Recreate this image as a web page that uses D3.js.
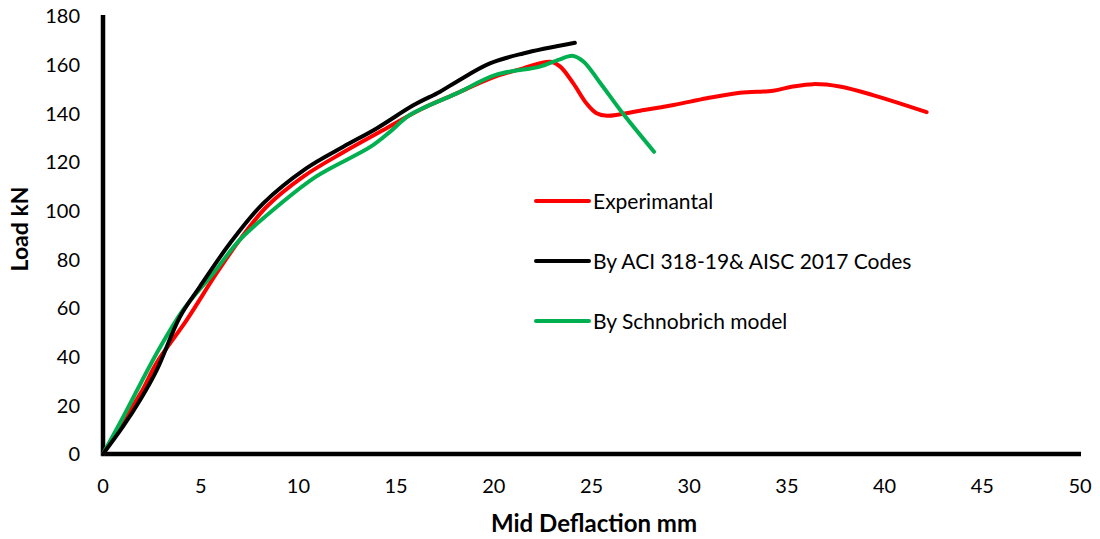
<!DOCTYPE html>
<html>
<head>
<meta charset="utf-8">
<script src="https://cdn.jsdelivr.net/npm/d3@7"></script>
<style>
  html, body { margin: 0; padding: 0; background: #fff; }
  svg { display: block; }
  text { font-family: Lato, "Open Sans", sans-serif; fill: #000; }
</style>
</head>
<body>
<svg id="chart" width="1100" height="539"></svg>
<script>
// ---- Data ----
const seriesNames = ["Experimantal", "By ACI 318-19& AISC 2017 Codes", "By Schnobrich model"];

const expX = [0, 1.0, 2.0, 2.74, 4.28, 5.82, 7.0, 8.37, 10.25, 12.3, 14.2, 16.2, 18.1, 19.8, 21.5, 22.9, 23.4, 24.07, 24.75, 25.26, 25.8, 27.5, 29.2, 30.9, 32.6, 34.3, 35.3, 36.35, 37.7, 39.4, 42.15];
const expY = [0, 13, 26, 37.4, 55, 74.4, 88, 101.6, 114, 124, 132.5, 141.4, 148.2, 154.3, 158.5, 161.2, 159.2, 152.3, 144, 140, 139, 141.1, 143.4, 146.2, 148.5, 149.3, 151, 152, 151, 147.5, 140.5];

const aciX = [0, 1.0, 1.9, 2.75, 3.94, 4.96, 6.5, 8.2, 10.4, 12.3, 14.0, 15.9, 17.25, 18.1, 19.8, 21.5, 24.15];
const aciY = [0, 11, 22.2, 34.5, 56.4, 68.8, 86.6, 103, 117.4, 126.3, 133.8, 143.4, 148.9, 153, 160.5, 164.6, 169];

const schX = [0, 1.04, 2.75, 4.1, 5.65, 7.0, 8.9, 10.9, 13.7, 14.7, 15.7, 18.1, 20.1, 22.36, 23.3, 24.07, 24.6, 25.4, 26.6, 28.2];
const schY = [0, 15.3, 41.4, 59.2, 74.3, 88, 101.6, 114, 126.3, 132.5, 139.3, 148.2, 155.8, 159.2, 162, 163.6, 161.2, 153, 140, 124.2];

const xTicks = [0, 5, 10, 15, 20, 25, 30, 35, 40, 45, 50];
const yTicks = [0, 20, 40, 60, 80, 100, 120, 140, 160, 180];

const colors = ["#FF0000", "#000000", "#00B050"];

// ---- Chart ----
const svg = d3.select("#chart");
const x = d3.scaleLinear().domain([0, 50]).range([103, 1080]);
const y = d3.scaleLinear().domain([0, 180]).range([454, 16]);

// axes lines
svg.append("line").attr("x1", x(0)).attr("x2", x(0)).attr("y1", y(180) - 1).attr("y2", y(0) + 2)
  .attr("stroke", "#000").attr("stroke-width", 4.5);
svg.append("line").attr("x1", x(0) - 2).attr("x2", x(50) + 1).attr("y1", y(0)).attr("y2", y(0))
  .attr("stroke", "#000").attr("stroke-width", 4.5);

// tick labels
svg.append("g").selectAll("text").data(xTicks).join("text")
  .attr("x", d => x(d)).attr("y", 493)
  .attr("text-anchor", "middle").attr("font-size", 20).text(d => d);
svg.append("g").selectAll("text").data(yTicks).join("text")
  .attr("x", 80).attr("y", d => y(d)).attr("dy", "0.36em")
  .attr("text-anchor", "end").attr("font-size", 20).text(d => d);

// axis titles
svg.append("text").attr("x", 594).attr("y", 532).attr("text-anchor", "middle")
  .attr("font-size", 24).attr("font-weight", "bold").text("Mid Deflaction mm");
svg.append("text").attr("transform", "translate(28,229) rotate(-90)").attr("text-anchor", "middle")
  .attr("font-size", 23).attr("font-weight", "bold").text("Load kN");

// series
const line = d3.line().x(d => x(d[0])).y(d => y(d[1])).curve(d3.curveCatmullRom.alpha(0.5));
const series = [
  d3.zip(expX, expY),
  d3.zip(aciX, aciY),
  d3.zip(schX, schY)
];
// draw order: red, green, black
[0, 2, 1].forEach(i => {
  svg.append("path").datum(series[i]).attr("d", line)
    .attr("fill", "none").attr("stroke", colors[i]).attr("stroke-width", 4)
    .attr("stroke-linecap", "round").attr("stroke-linejoin", "round");
});

// legend
const legY = [201, 261, 321];
seriesNames.forEach((name, i) => {
  svg.append("line").attr("x1", 536).attr("x2", 589).attr("y1", legY[i]).attr("y2", legY[i])
    .attr("stroke", colors[i]).attr("stroke-width", 4).attr("stroke-linecap", "round");
  svg.append("text").attr("x", 593).attr("y", legY[i]).attr("dy", "0.36em")
    .attr("font-size", 21).text(name);
});
</script>
</body>
</html>
